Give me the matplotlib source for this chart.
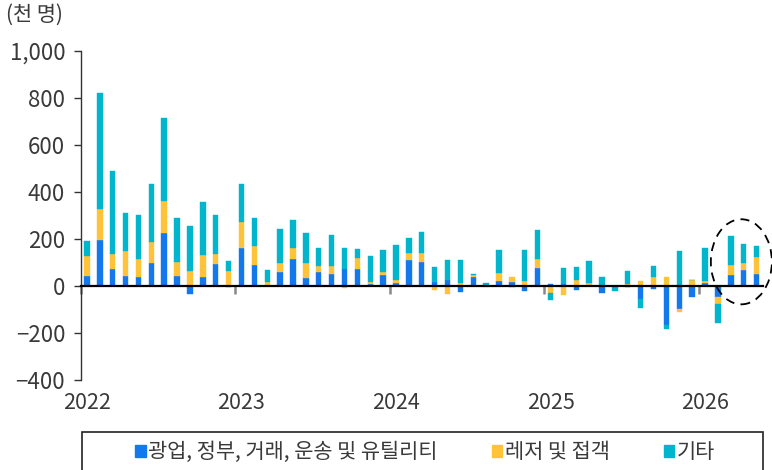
import numpy as np
import matplotlib
matplotlib.use("Agg")
import matplotlib.pyplot as plt
from matplotlib.patches import Ellipse, Rectangle, Patch
from matplotlib.ticker import FuncFormatter

plt.rcParams['font.family'] = ['Noto Sans CJK KR', 'DejaVu Sans']

# ---------------------------------------------------------------------------------------
# monthly data, Jan 2022 .. May 2026 (thousand persons)
years = ["2022", "2023", "2024", "2025", "2026"]
series_names = ["광업, 정부, 거래, 운송 및 유틸리티", "레저 및 접객", "기타"]

mining_gov = [44, 197, 74, 44, 37, 99, 227, 44, -34, 40, 94, -3,
              163, 89, 2, 60, 115, 35, 61, 51, 74, 74, 10, 47,
              14, 109, 102, 18, 27, -24, 38, 3, 23, 17, -21, 78,
              8, 10, -17, 0, -30, 0, -6, -55, -14, -164, -98, -45,
              14, -45, 45, 67, 51]
leisure = [84, 132, 64, 105, 79, 90, 136, 60, 62, 93, 42, 62,
           108, 80, 16, 36, 47, 61, 24, 34, -8, 47, 7, 13,
           12, 31, 38, -18, -33, 13, 9, -5, 32, 21, 23, 38,
           -30, -37, 26, 13, 0, 0, 9, 21, 37, 38, -11, 24,
           7, -33, 44, 31, 71]
others = [62, 491, 353, 160, 186, 246, 353, 187, 195, 224, 167, 43,
          163, 120, 50, 145, 117, 128, 77, 132, 89, 36, 109, 93,
          147, 66, 88, 63, 82, 98, 4, 10, 98, -5, 129, 121,
          -30, 67, 55, 93, 40, -20, 56, -37, 50, -17, 149, 0,
          139, -81, 124, 81, 48]

colors = ["#1278ec", "#ffc33a", "#00b5cc"]

# ---------------------------------------------------------------------------------------
fig = plt.figure(figsize=(7.72, 4.70), dpi=100)
ax = fig.add_axes([80.5 / 772, 1 - 380 / 470, (763 - 80.5) / 772, 329 / 470])

n = len(mining_gov)
x = np.arange(n) + 0.5
pos = np.zeros(n)
neg = np.zeros(n)
for vals, c in zip([mining_gov, leisure, others], colors):
    v = np.array(vals, dtype=float)
    bottom = np.where(v >= 0, pos, neg)
    ax.bar(x, v, width=0.42, bottom=bottom, color=c, edgecolor=c, linewidth=0.3, zorder=2)
    pos = np.where(v >= 0, pos + v, pos)
    neg = np.where(v < 0, neg + v, neg)

ax.set_xlim(0, n)
ax.set_ylim(-400, 1000)
ax.set_yticks(np.arange(-400, 1001, 200))
ax.yaxis.set_major_formatter(FuncFormatter(lambda v, p: f"{int(v):,}".replace("-", "\u2212")))
ax.tick_params(axis='y', direction='out', length=5, width=1, color='#333333',
               labelsize=16, labelcolor='#3a3a3a', pad=6)

# x axis sits on zero, year labels below the plot
for s in ['top', 'right']:
    ax.spines[s].set_visible(False)
ax.spines['bottom'].set_position(('data', 0))
ax.spines['bottom'].set_linewidth(1.6)
ax.spines['bottom'].set_color('black')
ax.spines['left'].set_color('#333333')
ax.spines['left'].set_linewidth(1)
ax.set_xticks(np.arange(0, n, 12))
ax.set_xticklabels([])
ax.tick_params(axis='x', direction='out', length=6, width=1.8, color='#888888')
for k, yr in enumerate(years):
    ax.text(12 * k + 0.5, -0.07, yr, transform=ax.get_xaxis_transform(),
            ha='center', va='center', fontsize=15.5, color='#3a3a3a')

fig.text(6 / 772, 1 - 15 / 470, "(천 명)", ha='left', va='center', fontsize=15, color='#3a3a3a')

# dashed ellipse around the latest months
ax.add_patch(Ellipse((51.32, 103), 4.74, 362, fill=False, ls=(0, (5, 3.5)),
                     lw=1.3, edgecolor='black', clip_on=False, zorder=3))

# legend
fig.add_artist(Rectangle((81.7 / 772, -0.1), (763.3 - 81.7) / 772, 0.1 + 1 - 432 / 470,
                         transform=fig.transFigure, fill=False, edgecolor='#222222', lw=1.2))
handles = [Patch(color=c) for c in colors]
fig.legend(handles, series_names, loc='center', bbox_to_anchor=(425 / 772, 1 - 452 / 470),
           ncol=3, frameon=False, handlelength=0.52, handleheight=0.52, handletextpad=0.1,
           columnspacing=2.6, fontsize=15, labelcolor='#3a3a3a')

fig.savefig("out.png", dpi=100)
